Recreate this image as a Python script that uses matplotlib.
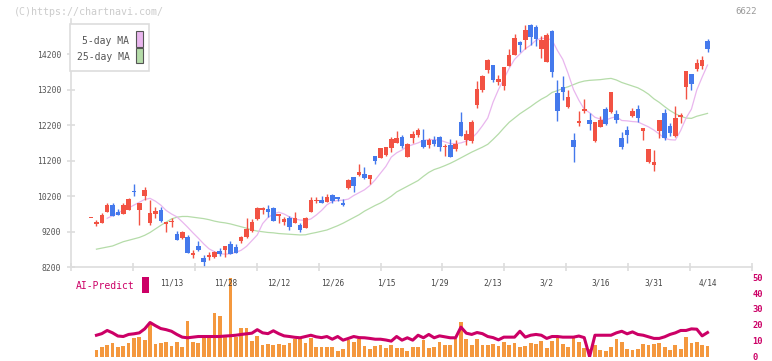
import numpy as np
import matplotlib
matplotlib.use("Agg")
import matplotlib.pyplot as plt
from matplotlib.patches import Rectangle
import matplotlib.transforms as mtransforms

plt.rcParams['font.family'] = ['DejaVu Sans Mono']

# ---- daily candles (index 0..115) ----
opens = [9580, 9430, 9455, 9765, 9950, 9755, 9710, 9820, 10340, 9810,
         10200, 9455, 9710, 9820, 9410, 9465, 9135, 9025, 9050, 8560,
         8800, 8460, 8490, 8500, 8660, 8680, 8855, 8780, 8940, 9050,
         9230, 9560, 9810, 9830, 9875, 9650, 9485, 9585, 9455, 9390,
         9315, 9765, 10065, 10095, 10045, 10225, 10180, 10010, 10420, 10740,
         10795, 10825, 10685, 11330, 11285, 11350, 11555, 11705, 11875, 11305,
         11835, 11910, 11790, 11650, 11780, 11865, 11575, 11640, 11530, 12285,
         11770, 11760, 12755, 13190, 13750, 13900, 13410, 13310, 13870, 14165,
         14530, 14605, 15025, 14960, 14350, 13975, 14855, 13105, 13270, 12710,
         11780, 12270, 12600, 12345, 11755, 12155, 12655, 12560, 12510, 11845,
         12060, 12455, 12655, 12045, 11155, 11080, 12035, 12550, 12175, 11895,
         12440, 13280, 13635, 13785, 13870, 14560]
closes = [9580, 9480, 9665, 9950, 9645, 9665, 9950, 10120, 10320, 10000,
          10370, 9735, 9785, 9500, 9475, 9495, 8970, 9195, 8610, 8570,
          8690, 8360, 8540, 8640, 8575, 8790, 8575, 8595, 9040, 9280,
          9485, 9860, 9865, 9765, 9510, 9710, 9565, 9340, 9585, 9250,
          9585, 10095, 10090, 10015, 10180, 10075, 10120, 9960, 10655, 10490,
          10880, 10705, 10795, 11200, 11555, 11575, 11810, 11830, 11620, 11675,
          11960, 12060, 11585, 11770, 11675, 11585, 11620, 11305, 11670, 11885,
          11950, 12285, 13225, 13590, 14040, 13470, 13505, 13835, 14180, 14650,
          14445, 14875, 14670, 14630, 14605, 14745, 13695, 12605, 13135, 12985,
          11595, 12320, 12645, 12230, 12295, 12345, 12230, 13130, 12345, 11595,
          11920, 12595, 12400, 12125, 11530, 11160, 12345, 11845, 11985, 12410,
          12485, 13720, 13355, 13945, 14030, 14340]
highs = [9580, 9520, 9720, 10000, 10000, 9830, 10010, 10140, 10545, 10000,
         10450, 10090, 9905, 9895, 9475, 9595, 9220, 9220, 9110, 8690,
         8940, 8545, 8640, 8660, 8750, 8800, 8940, 8855, 9090, 9590,
         9560, 9890, 9890, 9950, 9905, 9710, 9625, 9645, 9755, 9455,
         9615, 10170, 10170, 10205, 10260, 10260, 10180, 10120, 10695, 10740,
         11105, 11020, 10795, 11330, 11560, 11595, 11855, 12045, 11920, 11690,
         12025, 12120, 12090, 11835, 11885, 11885, 11670, 11810, 11790, 12570,
         12055, 12350, 13450, 13620, 14070, 13900, 13620, 13835, 14340, 14770,
         14575, 15005, 15045, 15025, 14700, 14780, 14885, 13475, 13575, 13190,
         11985, 12605, 12935, 12530, 12295, 12455, 12720, 13130, 12625, 12000,
         12175, 12675, 12765, 12125, 11530, 11500, 12345, 12655, 12270, 12735,
         12530, 13720, 13635, 14060, 14145, 14620]
lows = [9580, 9370, 9455, 9745, 9645, 9665, 9690, 9800, 10215, 9390,
        10090, 9390, 9595, 9485, 9200, 9340, 8970, 8995, 8610, 8450,
        8660, 8215, 8405, 8455, 8520, 8500, 8575, 8595, 8875, 9020,
        9200, 9530, 9690, 9625, 9510, 9455, 9390, 9250, 9455, 9200,
        9295, 9765, 10000, 10015, 10045, 10015, 10075, 9925, 10395, 10325,
        10770, 10685, 10545, 11105, 11280, 11330, 11450, 11705, 11565, 11300,
        11695, 11865, 11555, 11555, 11620, 11480, 11320, 11305, 11480, 11885,
        11650, 11695, 12680, 13130, 13655, 13410, 13320, 13195, 13870, 14165,
        14255, 14340, 14445, 14415, 14090, 13975, 13555, 12325, 12910, 12680,
        11170, 12175, 12530, 12060, 11735, 12155, 12205, 12530, 12270, 11530,
        11705, 12435, 12295, 11780, 11125, 10915, 11845, 11780, 11895, 11875,
        12250, 12935, 13190, 13730, 13780, 14265]

nan = np.nan
ma5 = [nan, nan, nan, 9580, 9650, 9740, 9800, 9870, 9950, 10030,
       10110, 10140, 10060, 9950, 9800, 9700, 9620, 9480, 9330, 9170,
       9020, 8860, 8720, 8640, 8580, 8570, 8580, 8620, 8680, 8790,
       8950, 9110, 9430, 9600, 9700, 9750, 9700, 9620, 9560, 9530,
       9520, 9560, 9670, 9800, 9960, 10050, 10080, 10090, 10120, 10220,
       10300, 10380, 10500, 10660, 10850, 11040, 11300, 11420, 11500, 11600,
       11650, 11700, 11770, 11790, 11790, 11780, 11730, 11680, 11680, 11700,
       11750, 11830, 11980, 12180, 12400, 12850, 13200, 13500, 13800, 14050,
       14200, 14350, 14450, 14590, 14640, 14640, 14590, 14300, 14050, 13650,
       13200, 12900, 12650, 12550, 12420, 12370, 12340, 12400, 12440, 12330,
       12320, 12300, 12290, 12220, 12150, 12060, 11950, 11830, 11790, 11780,
       12050, 12400, 12650, 13190, 13550, 13890]
ma25 = [nan, 8710, 8740, 8770, 8800, 8860, 8920, 8960, 9000, 9040,
        9100, 9180, 9280, 9380, 9470, 9560, 9610, 9630, 9630, 9610,
        9590, 9570, 9540, 9500, 9470, 9450, 9420, 9380, 9340, 9300,
        9250, 9220, 9200, 9180, 9170, 9150, 9140, 9130, 9120, 9110,
        9115, 9150, 9180, 9215, 9250, 9310, 9370, 9440, 9520, 9600,
        9680, 9780, 9860, 9940, 10010, 10100, 10200, 10320, 10400, 10480,
        10560, 10640, 10760, 10870, 10950, 11000, 11060, 11125, 11200, 11280,
        11360, 11440, 11510, 11580, 11660, 11800, 11950, 12120, 12280, 12400,
        12520, 12620, 12720, 12830, 12930, 13010, 13120, 13170, 13230, 13280,
        13340, 13400, 13440, 13460, 13470, 13480, 13500, 13515, 13470, 13400,
        13350, 13300, 13250, 13170, 13070, 12940, 12840, 12720, 12610, 12520,
        12450, 12400, 12390, 12450, 12490, 12530]

# ---- lower panel (index 1..115) ----
volume = [7, 9.7, 12, 14, 10.3, 11.3, 14, 19, 20, 17.3,
          33.3, 13, 14, 15, 11.3, 14.7, 10.3, 36.3, 15, 14,
          19, 21.7, 44, 41, 22.3, 80, 20, 29, 29, 16.3,
          21.3, 12, 13, 12, 13, 12, 14, 18, 18, 14,
          19, 9.7, 10, 10, 10, 6, 8, 17, 15, 18,
          11, 8, 11, 12, 9, 12, 9, 9, 6, 10,
          10, 17, 9, 10, 15, 12, 12, 18, 35, 18,
          12, 18, 12, 12, 13, 11, 15, 12, 14, 10,
          11, 14, 13, 16.3, 9, 16.3, 19, 13, 10, 20,
          15, 9, 8, 12, 7, 6, 10, 18, 15, 8,
          7, 8, 13, 12, 13, 14, 10, 7, 12, 8,
          20, 14, 15, 12, 11]
ai_predict = [13.5, 14.5, 16.5, 15.0, 13.0, 12.7, 14.0, 14.4, 15.0, 17.5,
              21.5, 19.5, 17.7, 17.0, 16.0, 14.0, 12.3, 11.9, 12.3, 12.7,
              12.7, 12.7, 12.7, 12.7, 13.0, 13.2, 13.5, 14.0, 14.4, 14.8,
              17.0, 15.0, 14.5, 16.3, 14.5, 13.1, 12.7, 12.2, 11.9, 12.7,
              13.5, 12.5, 12.0, 12.7, 11.0, 12.7, 10.4, 11.5, 12.7, 12.0,
              11.9, 11.5, 11.0, 11.0, 10.5, 9.8, 12.7, 10.4, 11.9, 10.4,
              13.5, 11.9, 14.0, 11.9, 13.1, 12.5, 11.9, 11.9, 18.6, 14.8,
              14.0, 15.2, 14.5, 12.7, 12.0, 10.6, 12.3, 12.3, 12.3, 16.0,
              12.3, 13.5, 14.0, 13.5, 11.5, 12.7, 12.7, 12.3, 12.3, 12.3,
              13.0, 12.0, 0.0, 13.5, 13.5, 13.5, 13.5, 15.0, 16.0, 14.4,
              15.6, 14.0, 13.5, 12.5, 11.5, 11.5, 12.5, 14.0, 15.0, 16.5,
              16.5, 17.5, 17.3, 13.1, 15.2]

date_labels = ["11/13", "11/28", "12/12", "12/26", "1/15", "1/29",
               "2/13", "3/2", "3/16", "3/31", "4/14"]
date_index = [15, 25, 35, 45, 55, 65, 75, 85, 95, 105, 115]
price_ticks = [8200, 9200, 10200, 11200, 12200, 13200, 14200]
ai_ticks = [0, 10, 20, 30, 40, 50]

RED = "#f25243"
BLUE = "#4479ec"
PINK = "#e9b6ee"
GREEN = "#b5dca9"
ORANGE = "#f4983e"
CRIMSON = "#cc0066"
GRID = "#dddddd"

W, H = 772, 361
def fx(p): return p / W
def fy(p): return 1 - p / H

fig = plt.figure(figsize=(7.72, 3.61), dpi=100)
ax = fig.add_axes([fx(71), fy(267.3), fx(752) - fx(71), fy(18.5) - fy(267.3)])
axb = fig.add_axes([fx(71), fy(356.7), fx(752) - fx(71), fy(277.2) - fy(356.7)])

x0, x1 = -3.75, 123.3
x = np.arange(len(opens))
o = np.array(opens, float); c = np.array(closes, float)
hi = np.array(highs, float); lo = np.array(lows, float)
cols = [RED if cc >= oo else BLUE for oo, cc in zip(o, c)]

ax.plot(x, ma25, color=GREEN, lw=0.9, zorder=1)
ax.plot(x, ma5, color=PINK, lw=0.9, zorder=1)
ax.vlines(x, lo, hi, colors=cols, lw=1.0, zorder=2)
body = np.maximum(np.abs(c - o), 35)
ax.bar(x, body, bottom=np.minimum(o, c), width=0.85, color=cols, zorder=3)

ax.set_xlim(x0, x1)
ax.set_ylim(8200, 15200)
ax.set_yticks(price_ticks)
ax.set_yticklabels([str(v) for v in price_ticks])
ax.set_xticks(np.linspace(x0, x1, 12))
ax.set_xticklabels([])
for s in ["top", "right"]:
    ax.spines[s].set_visible(False)
for s in ["left", "bottom"]:
    ax.spines[s].set_color(GRID)
    ax.spines[s].set_linewidth(1.2)
ax.tick_params(axis="y", direction="inout", length=6, width=1.2, color=GRID,
               labelsize=5.8, labelcolor="#555555", pad=4)
ax.tick_params(axis="x", direction="inout", length=6, width=1.2, color=GRID)

# legend box
fig.patches.append(Rectangle((fx(70.3), fy(71.3)), fx(148.7) - fx(70.3), fy(24) - fy(71.3),
                             transform=fig.transFigure, fc="white", ec=GRID, lw=1.2, zorder=5))
fig.text(fx(129.5), fy(40.5), "5-day MA", ha="right", va="center", fontsize=7,
         color="#555555", zorder=6)
fig.text(fx(129.5), fy(57), "25-day MA", ha="right", va="center", fontsize=7,
         color="#555555", zorder=6)
fig.patches.append(Rectangle((fx(136.3), fy(46.7)), fx(142.7) - fx(136.3), fy(31) - fy(46.7),
                             transform=fig.transFigure, fc=PINK, ec="#555555", lw=0.8, zorder=6))
fig.patches.append(Rectangle((fx(136.3), fy(63.3)), fx(142.7) - fx(136.3), fy(48.3) - fy(63.3),
                             transform=fig.transFigure, fc=GREEN, ec="#555555", lw=0.8, zorder=6))

# lower panel: volume + AI-Predict
xb = np.arange(1, len(volume) + 1)
axb.bar(xb, volume, width=0.7, color=ORANGE)
axb.set_xlim(x0, x1)
axb.set_ylim(0, 80.5)
axb.axis("off")

axa = axb.twinx()
axa.plot(xb, ai_predict, color=CRIMSON, lw=2.2)
axa.set_xlim(x0, x1)
axa.set_ylim(0, 50)
axa.set_yticks(ai_ticks)
axa.set_yticklabels([str(v) for v in ai_ticks])
for s in axa.spines.values():
    s.set_visible(False)
axa.tick_params(axis="y", length=0, pad=0.5, labelsize=6.3, labelcolor=CRIMSON)
axa.tick_params(axis="x", bottom=False, labelbottom=False)
for t in axa.get_yticklabels():
    t.set_fontweight("bold")

trans = mtransforms.blended_transform_factory(axb.transData, fig.transFigure)
for i, lab in zip(date_index, date_labels):
    axb.text(i, fy(282.5), lab, transform=trans, ha="center", va="center",
             fontsize=5.6, color="#444444", clip_on=False)

fig.text(fx(76), fy(286), "AI-Predict", ha="left", va="center", fontsize=7, color=CRIMSON)
fig.patches.append(Rectangle((fx(142.3), fy(292.7)), fx(148.7) - fx(142.3), fy(276.7) - fy(292.7),
                             transform=fig.transFigure, fc=CRIMSON, ec="none", zorder=5))

fig.text(fx(14), fy(12), "(C)https://chartnavi.com/", ha="left", va="center",
         fontsize=7.2, color="#cccccc")
fig.text(fx(757), fy(12), "6622", ha="right", va="center", fontsize=6.5, color="#999999")

fig.savefig("out.png", dpi=100)
